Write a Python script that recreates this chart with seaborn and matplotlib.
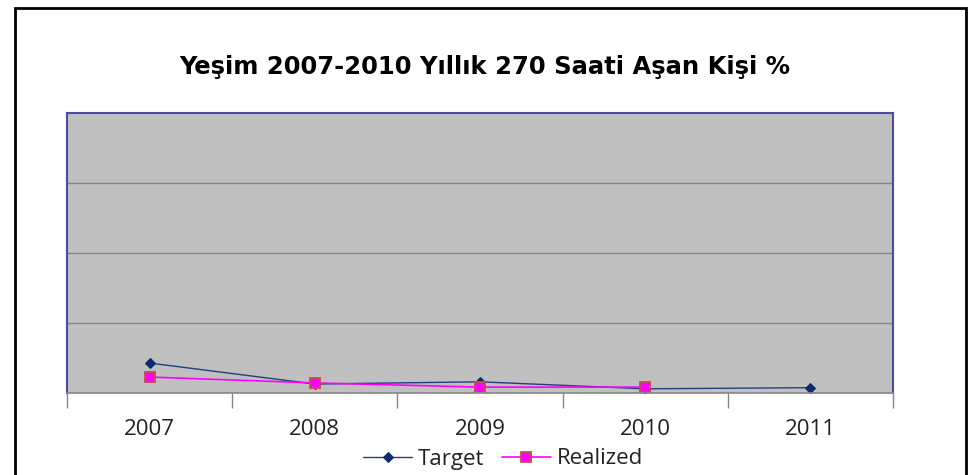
import matplotlib
matplotlib.use("Agg")
import matplotlib.pyplot as plt
import seaborn as sns
import pandas as pd
from matplotlib.patches import Rectangle

# values (y axis 0-100, gridlines every 25)
years = [2007, 2008, 2009, 2010, 2011]
target = [10.7, 3.2, 4.0, 1.5, 1.9]
realized_years = [2007, 2008, 2009, 2010]
realized = [5.7, 3.6, 2.1, 2.1]

df = pd.concat([
    pd.DataFrame({"Year": years, "Value": target, "Series": "Target"}),
    pd.DataFrame({"Year": realized_years, "Value": realized, "Series": "Realized"}),
])

sns.set_style("white")
plt.rcParams["font.family"] = ["DejaVu Sans"]

fig = plt.figure(figsize=(9.72, 4.75), dpi=100)
ax = fig.add_axes([67 / 972, 1 - 393 / 475, (893 - 67) / 972, (393 - 113) / 475])
ax.set_facecolor("#c0c0c0")

sns.lineplot(data=df[df.Series == "Target"], x="Year", y="Value", ax=ax,
             color="#1f3f7f", lw=1.0, marker="D", markersize=5.5,
             markerfacecolor="#102a6e", markeredgecolor="#102a6e", label="Target")
sns.lineplot(data=df[df.Series == "Realized"], x="Year", y="Value", ax=ax,
             color="#ff00ff", lw=1.2, marker="s", markersize=7,
             markerfacecolor="#ff00ff", markeredgecolor="#c0504d",
             markeredgewidth=1.3, label="Realized")

ax.set_xlim(2006.5, 2011.5)
ax.set_ylim(0, 100)
ax.set_yticks([25, 50, 75])
ax.set_yticklabels([])
ax.tick_params(axis="y", length=0, left=False)
ax.grid(axis="y", color="#868686", lw=1)
ax.set_axisbelow(True)

ax.set_xticks(years)
ax.set_xticklabels([str(y) for y in years], fontsize=16, color="#222222",
                   family="Open Sans")
ax.set_xticks([2006.5 + i for i in range(6)], minor=True)
ax.tick_params(axis="x", which="major", length=0, pad=19)
ax.tick_params(axis="x", which="minor", bottom=True, length=11,
               color="#868686", width=1, direction="out")
ax.set_xlabel("")
ax.set_ylabel("")

for side in ["top", "left", "right"]:
    ax.spines[side].set_color("#4b4ba8")
    ax.spines[side].set_linewidth(1.5)
ax.spines["bottom"].set_color("#868686")
ax.spines["bottom"].set_linewidth(1.2)

leg = ax.legend(loc="center", bbox_to_anchor=((503 - 67) / 826, -(459 - 393) / 280),
                ncol=2, frameon=False, handlelength=2.2, columnspacing=0.8,
                handletextpad=0.25, borderpad=0, prop={"family": "Open Sans", "size": 16})
for t in leg.get_texts():
    t.set_color("#222222")

fig.text(485 / 972, 1 - 67 / 475, "Yeşim 2007-2010 Yıllık 270 Saati Aşan Kişi %",
         ha="center", va="center", fontsize=17.5, fontweight="bold",
         color="black")

fig.patches.append(Rectangle((15 / 972, -0.05), (966 - 15) / 972, 1.05 - 8 / 475,
                             transform=fig.transFigure, fill=False,
                             edgecolor="black", lw=2))

fig.savefig("out.png", dpi=100)
